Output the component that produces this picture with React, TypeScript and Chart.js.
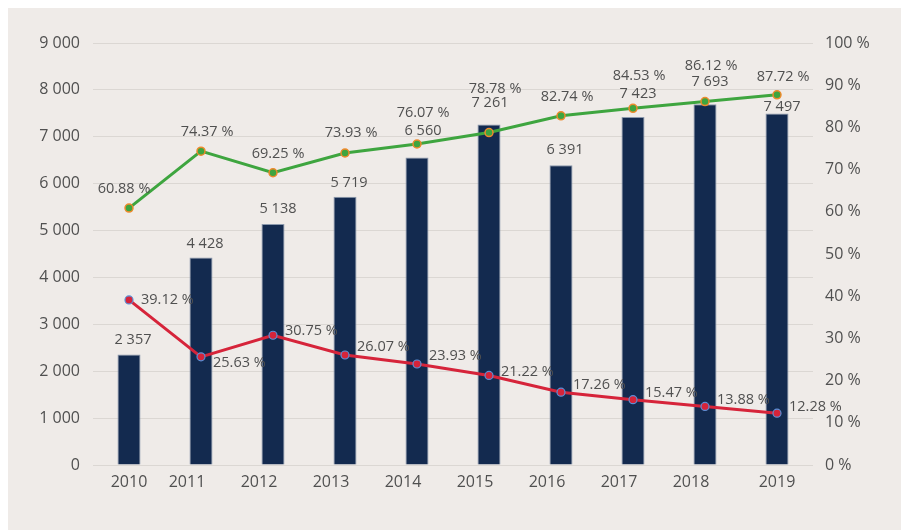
import React, { useEffect, useRef } from 'react';
import { Chart, registerables } from 'chart.js';

Chart.register(...registerables);

// ---- data ----
const years = ['2010', '2011', '2012', '2013', '2014', '2015', '2016', '2017', '2018', '2019'];
const totals = [2357, 4428, 5138, 5719, 6560, 7261, 6391, 7423, 7693, 7497];
const greenPct = [60.88, 74.37, 69.25, 73.93, 76.07, 78.78, 82.74, 84.53, 86.12, 87.72];
const redPct = [39.12, 25.63, 30.75, 26.07, 23.93, 21.22, 17.26, 15.47, 13.88, 12.28];
const leftMax = 9000;
const leftStep = 1000;
const rightMax = 100;
const rightStep = 10;

// ---- label placement (style) ----
const barLabelDx = [4, 4, 5, 4, 6, 1, 4, 5, 5, 5];
const barLabelRise = [15, 14, 15, 14, 27, 22, 15, 23, 22, 7];
const greenLabelDx = [-5, 6, 5, 6, 6, 6, 6, 6, 6, 6];
const greenLabelDy = [-19, -19, -19, -20, -31, -44, -19, -32, -36, -18];
const redLabelDy = [0, 6, -4, -8, -8, -4, -7, -7, -7, -6];
const xLabelShift = [0, -14, -14, -14, -14, -14, -14, -14, -14, 0];

const TEXT = '#505050';
const FONT = '"Open Sans", "Noto Sans", sans-serif';
const BG = '#efebe8';
const GRID = '#dbd7d3';

const fmtThousands = (v: number) => String(v).replace(/\B(?=(\d{3})+(?!\d))/g, ' ');
const fmtPct = (v: number) => `${v.toFixed(2)} %`;

const labelPlugin = {
  id: 'customLabels',
  afterDatasetsDraw(chart: any) {
    const ctx = chart.ctx as CanvasRenderingContext2D;
    const xs = chart.scales.x;
    const area = chart.chartArea;
    ctx.save();
    ctx.fillStyle = TEXT;
    ctx.textBaseline = 'middle';

    // bar labels
    ctx.font = `14.5px ${FONT}`;
    ctx.textAlign = 'center';
    const barMeta = chart.getDatasetMeta(2);
    barMeta.data.forEach((el: any, i: number) => {
      ctx.fillText(fmtThousands(totals[i]), el.x + barLabelDx[i], el.y - barLabelRise[i]);
    });

    // green labels
    const gMeta = chart.getDatasetMeta(0);
    gMeta.data.forEach((el: any, i: number) => {
      ctx.fillText(fmtPct(greenPct[i]), el.x + greenLabelDx[i], el.y + greenLabelDy[i]);
    });

    // red labels
    ctx.textAlign = 'left';
    const rMeta = chart.getDatasetMeta(1);
    rMeta.data.forEach((el: any, i: number) => {
      ctx.fillText(fmtPct(redPct[i]), el.x + 12, el.y + redLabelDy[i]);
    });

    // x axis labels
    ctx.font = `16px ${FONT}`;
    ctx.textAlign = 'center';
    years.forEach((y, i) => {
      ctx.fillText(y, xs.getPixelForValue(i) + xLabelShift[i], area.bottom + 17);
    });
    ctx.restore();
  },
};

export default function App() {
  const ref = useRef<HTMLCanvasElement | null>(null);

  useEffect(() => {
    if (!ref.current) return;
    const chart = new Chart(ref.current, {
      type: 'bar',
      data: {
        labels: years,
        datasets: [
          {
            type: 'line',
            label: 'green',
            data: greenPct,
            yAxisID: 'y1',
            borderColor: '#3ea53f',
            borderWidth: 3,
            pointBackgroundColor: '#3ea53f',
            pointBorderColor: '#ee8a2c',
            pointBorderWidth: 1.5,
            pointRadius: 4,
            tension: 0,
            order: 0,
          },
          {
            type: 'line',
            label: 'red',
            data: redPct,
            yAxisID: 'y1',
            borderColor: '#d6243a',
            borderWidth: 3,
            pointBackgroundColor: '#d6243a',
            pointBorderColor: '#5b8fd6',
            pointBorderWidth: 1.2,
            pointRadius: 4,
            tension: 0,
            order: 1,
          },
          {
            type: 'bar',
            label: 'total',
            data: totals,
            yAxisID: 'y',
            backgroundColor: '#132a4f',
            borderColor: '#8b99ad',
            borderWidth: 1,
            barPercentage: 0.32,
            categoryPercentage: 1,
            order: 2,
          },
        ],
      },
      options: {
        animation: false,
        responsive: true,
        maintainAspectRatio: false,
        layout: { padding: { top: 35, bottom: 65, left: 0, right: 0 } },
        plugins: {
          legend: { display: false },
          tooltip: { enabled: false },
        },
        scales: {
          x: {
            type: 'category',
            display: false,
            offset: true,
            grid: { display: false },
          },
          y: {
            position: 'left',
            min: 0,
            max: leftMax,
            ticks: {
              stepSize: leftStep,
              color: TEXT,
              font: { family: FONT, size: 16 },
              padding: 13,
              callback: (v: any) => fmtThousands(Number(v)),
            },
            grid: { color: GRID, drawTicks: false, lineWidth: 1 },
            border: { display: false },
            afterFit: (s: any) => {
              s.width = 85;
            },
          },
          y1: {
            position: 'right',
            min: 0,
            max: rightMax,
            ticks: {
              stepSize: rightStep,
              color: TEXT,
              font: { family: FONT, size: 16 },
              padding: 12,
              callback: (v: any) => `${v} %`,
            },
            grid: { display: false, drawTicks: false },
            border: { display: false },
            afterFit: (s: any) => {
              s.width = 90;
            },
          },
        },
      },
      plugins: [labelPlugin],
    });
    return () => chart.destroy();
  }, []);

  return (
    <div style={{ width: 895, height: 522, background: BG, position: 'relative' }}>
      <canvas ref={ref} />
    </div>
  );
}
